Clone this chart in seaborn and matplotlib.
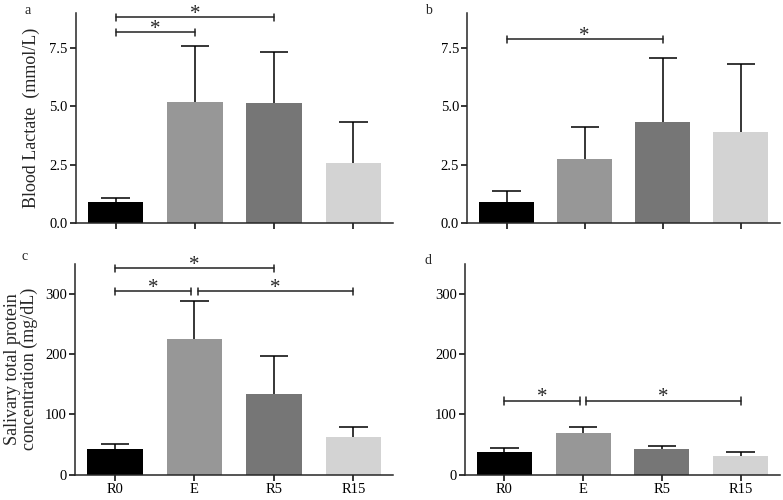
import matplotlib
matplotlib.use("Agg")
import numpy as np
import pandas as pd
import matplotlib.pyplot as plt
import seaborn as sns

GROUPS = ["R0", "E", "R5", "R15"]
BAR_COLORS = ["#000000", "#979797", "#767676", "#d3d3d3"]

# panel a: blood lactate, group 1
LAC_A_MEAN = [0.88, 5.18, 5.13, 2.57]
LAC_A_SD = [0.20, 2.42, 2.20, 1.78]
# panel b: blood lactate, group 2
LAC_B_MEAN = [0.90, 2.73, 4.31, 3.91]
LAC_B_SD = [0.49, 1.40, 2.78, 2.89]
# panel c: salivary total protein, group 1
PROT_C_MEAN = [43, 224, 133, 62]
PROT_C_SD = [7, 63, 63, 17]
# panel d: salivary total protein, group 2
PROT_D_MEAN = [37, 69, 42, 30]
PROT_D_SD = [7, 10, 6, 7]

# significance brackets: (from group, to group, height)
SIG_A = [("R0", "E", 8.17), ("R0", "R5", 8.82)]
SIG_B = [("R0", "R5", 7.88)]
SIG_C = [("R0", "E", 304), ("E", "R15", 304), ("R0", "R5", 342)]
SIG_D = [("R0", "E", 122), ("E", "R15", 122)]

LAC_TICKS = [0.0, 2.5, 5.0, 7.5]
PROT_TICKS = [0, 100, 200, 300]

sns.set_theme(style="ticks")
plt.rcParams["font.family"] = ["Liberation Serif", "DejaVu Serif"]
plt.rcParams["axes.linewidth"] = 1.1
plt.rcParams["xtick.major.width"] = 1.1
plt.rcParams["ytick.major.width"] = 1.1
plt.rcParams["xtick.major.size"] = 4
plt.rcParams["ytick.major.size"] = 4


def draw_panel(ax, means, sds, sig, ymax, ticks, fmt, show_x):
    df = pd.DataFrame({"group": GROUPS, "value": means})
    sns.barplot(data=df, x="group", y="value", hue="group", palette=BAR_COLORS,
                order=GROUPS, width=0.7, legend=False, ax=ax, saturation=1,
                linewidth=0)
    xs = np.arange(len(GROUPS))
    tops = np.asarray(means) + np.asarray(sds)
    # upper-only error bars with a cap
    ax.vlines(xs, means, tops, color="black", lw=1.1)
    ax.hlines(tops, xs - 0.18, xs + 0.18, color="black", lw=1.1)

    # brackets sharing an end group get pulled apart a little
    cap = ymax * 0.017
    for g1, g2, y in sig:
        x1 = GROUPS.index(g1)
        x2 = GROUPS.index(g2)
        if any(s[1] == g1 and s[2] == y for s in sig):
            x1 += 0.04
        if any(s[0] == g2 and s[2] == y for s in sig):
            x2 -= 0.04
        ax.plot([x1, x2], [y, y], color="#222222", lw=1.1)
        for x in (x1, x2):
            ax.plot([x, x], [y - cap, y + cap], color="#222222", lw=1.1)
        ax.annotate("*", ((x1 + x2) / 2, y), xytext=(0, -1),
                    textcoords="offset points", ha="center", va="baseline",
                    fontsize=15)

    ax.set_xlim(-0.5, 3.5)
    ax.set_ylim(0, ymax)
    ax.set_yticks(ticks)
    ax.set_yticklabels([fmt.format(t) for t in ticks], fontsize=10.5)
    ax.set_xlabel("")
    ax.set_ylabel("")
    ax.set_xticks(xs)
    if show_x:
        ax.set_xticklabels(GROUPS, fontsize=10.5)
    else:
        ax.set_xticklabels([])
    ax.tick_params(colors="black", pad=2)
    sns.despine(ax=ax)


fig = plt.figure(figsize=(7.83, 5.0), dpi=100)
ax_a = fig.add_axes([0.097, 0.554, 0.405, 0.42])
ax_b = fig.add_axes([0.597, 0.554, 0.399, 0.42])
ax_c = fig.add_axes([0.096, 0.051, 0.406, 0.422])
ax_d = fig.add_axes([0.594, 0.051, 0.402, 0.422])

draw_panel(ax_a, LAC_A_MEAN, LAC_A_SD, SIG_A, 9.0, LAC_TICKS, "{:.1f}", False)
draw_panel(ax_b, LAC_B_MEAN, LAC_B_SD, SIG_B, 9.0, LAC_TICKS, "{:.1f}", False)
draw_panel(ax_c, PROT_C_MEAN, PROT_C_SD, SIG_C, 350, PROT_TICKS, "{:d}", True)
draw_panel(ax_d, PROT_D_MEAN, PROT_D_SD, SIG_D, 350, PROT_TICKS, "{:d}", True)

for letter, (px, py) in zip("abcd", [(28, 10), (428, 10), (25, 256), (428, 260)]):
    fig.text(px / 783, 1 - py / 500, letter, fontsize=10, ha="center", va="center")

ax_a.set_ylabel("Blood Lactate  (mmol/L)", fontsize=13, labelpad=7)
ax_c.set_ylabel("Salivary total protein\nconcentration (mg/dL)", fontsize=13,
                labelpad=5, linespacing=1.0)

fig.savefig("out.png", dpi=100)
